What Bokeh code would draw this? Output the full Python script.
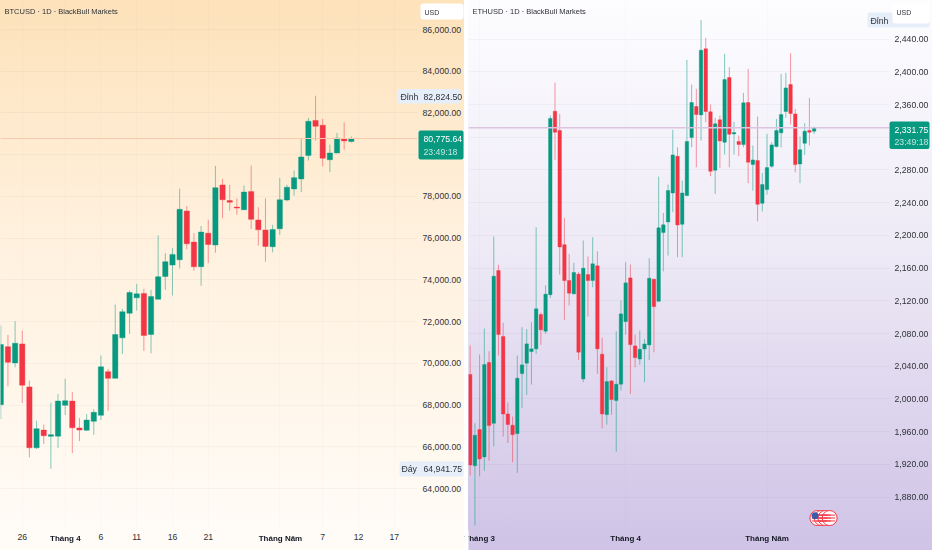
from bokeh.plotting import figure
from bokeh.layouts import row
from bokeh.models import ColumnDataSource, FixedTicker, Label, Span, BoxAnnotation, NumeralTickFormatter, Range1d
from bokeh.embed import file_html
from bokeh.resources import INLINE

FONT = "Liberation Sans"
UP = "#089981"
DOWN = "#f23645"
TEXT = "#2f3238"

# ---- BTCUSD daily, first candle 23 March
btc_open = [68020,70800,70020,70930,68870,65950,66800,66500,66510,67990,68190,66900,66790,67220,67510,69600,69280,71220,72400,73140,73350,71380,73070,74160,74710,74960,77300,75810,74630,76230,75670,78550,77800,77490,77360,78230,76870,76390,75590,76450,77830,78360,78840,79960,81640,81410,79760,80080,80770,80630]
btc_high = [71810,71360,72020,71570,69170,67250,67060,68110,68530,69270,68630,67380,67570,67810,70370,69730,72820,72610,73490,73810,73570,73520,76130,75280,75520,78370,77540,76240,76580,76880,79460,78840,78560,77910,78520,79480,77480,77910,76640,78880,78560,79240,80760,81760,82824.5,81720,80480,81040,81540,80870]
btc_low = [67330,68900,69810,68100,65490,65890,66130,64941.75,65950,67520,65700,66270,66770,66580,67280,67730,69280,70450,71410,72530,70590,70480,73070,73520,73250,74550,75460,74440,73720,74800,75300,76950,77320,77120,77350,76440,75640,74870,75320,76150,77760,78040,78200,79720,80680,79430,79160,80070,80240,80580]
btc_close = [70900,70050,70960,68950,65950,66870,66530,66580,68190,68210,66910,66800,67280,67650,69830,69280,71380,72470,73390,73330,71330,73200,74150,74870,75220,77380,75730,74630,76290,75700,78420,77840,77720,77440,78210,76900,76400,75600,76420,77840,78440,78900,79890,81600,81360,79830,80080,80790,80660,80775.64]
btc_price_ticks = [64000,66000,68000,70000,72000,74000,76000,78000,80000,82000,84000,86000]
btc_day_ticks = [3,14,19,24,29,45,50,55]
btc_day_labels = ["26","6","11","16","21","7","12","17"]
btc_month_ticks = [9,39]
btc_month_labels = ["Tháng 4","Tháng Năm"]

# ---- ETHUSD daily, first candle 27 February
eth_open = [2029.8,1918.4,1962.5,1929,2044.5,1970.2,2157,2076.3,1981.6,1967.8,1957.6,2031,2043.7,2057.9,2061.2,2103.2,2082.8,2127.5,2351.9,2328.3,2188.7,2144.8,2128.5,2152.6,2024.4,2152.1,2144.8,2162.8,2054.7,1980.8,2022,1998,2018,2094.5,2148,2064.8,2048.8,2061.1,2066,2146.4,2119.4,2203.5,2216.5,2251.9,2296.8,2213.6,2248.7,2319.6,2357.6,2347.4,2428.2,2351.1,2279.7,2341.3,2313.9,2393.1,2324.1,2314.8,2311.1,2362.5,2286.6,2291.5,2239.3,2256,2284.6,2308.6,2325.4,2351.5,2384.5,2348.6,2287.4,2312.7,2328.2,2327.4]
eth_high = [2065.3,1970.2,2054.3,2086,2058.3,2198.7,2164,2093,1995.5,1978.4,2053,2087.7,2085.3,2093.8,2210,2105.7,2138.7,2346.6,2387,2348.7,2221.4,2177.4,2166.4,2155,2193.8,2174.2,2197.8,2180.7,2074.7,2038.8,2023,2082.8,2120.4,2167.2,2164.3,2078.6,2083.5,2073.3,2172.1,2146.8,2272,2227.5,2262.2,2329,2307.8,2267,2414.7,2384.5,2379.2,2463.7,2441.6,2360.1,2343.7,2346.6,2422.1,2405.7,2338.8,2322.1,2374.3,2403.7,2309.9,2345.4,2276.4,2324.1,2313.9,2342.5,2397.6,2398.8,2422.9,2354.7,2320.9,2337.2,2368.2,2333.1]
eth_low = [1906.2,1845,1905.3,1912,1924.5,1942,2053,1953.9,1946.1,1922.5,1909.4,1988.6,2004.9,2017.5,2055,2066.1,2079.6,2123.5,2292.4,2152,2096.7,2114.2,2127.7,2047.7,2020.4,2100.7,2136.6,2030.6,1964.1,1968.6,1980.8,1935.5,2010.2,2078.6,2006.1,2038.6,2041.9,2020.4,2047.6,2057,2119,2156.1,2175.3,2228.3,2173.3,2173.3,2247.8,2307.8,2283.3,2316,2338.4,2272.3,2250.7,2282.5,2298.8,2283.3,2298.8,2296.8,2307.8,2263.8,2254.8,2217.2,2229.1,2249.9,2282.5,2307.8,2307.8,2343.7,2335.6,2277.2,2263.8,2298.4,2309.9,2324.1]
eth_close = [1919.2,1955.5,1926.6,2042,1967.4,2150.1,2078.7,1981.6,1968.6,1956.3,2025.3,2041.6,2067.3,2061.2,2110.2,2084.5,2128.1,2343,2326.2,2185.9,2144.7,2129.3,2154.6,2057.1,2159.9,2144.8,2165.2,2061.2,1981.6,2021.2,1999.2,2018,2104,2141.9,2066.4,2050.5,2060.7,2067.2,2147.6,2112.9,2209.2,2212.9,2254.9,2298.4,2212.8,2251.9,2314.8,2362.5,2347.8,2426.5,2351.5,2278.4,2336.4,2315.6,2390.6,2323.7,2325.8,2311.1,2362.1,2289.5,2292.3,2238,2262.1,2282.9,2310.7,2328.2,2347.8,2380.4,2349,2286.6,2304.6,2327.4,2326.2,2331.75]
eth_price_ticks = [1880,1920,1960,2000,2040,2080,2120,2160,2200,2240,2280,2320,2360,2400,2440]
eth_month_ticks = [2,33,63]
eth_month_labels = ["Tháng 3","Tháng 4","Tháng Năm"]


def panel(width, border_right, xr, yr, opens, highs, lows, closes, ticks, bg, price_fmt):
    p = figure(width=width, height=550, output_backend="svg", toolbar_location=None,
               x_range=Range1d(*xr), y_range=Range1d(*yr), y_axis_location="right",
               min_border_left=0, min_border_top=0, min_border_right=border_right, min_border_bottom=22,
               outline_line_color=None, background_fill_alpha=0, border_fill_alpha=0)
    p.styles = {"background": bg}
    idx = list(range(len(opens)))
    src = ColumnDataSource(dict(
        x=idx, high=highs, low=lows,
        top=[max(o, c) for o, c in zip(opens, closes)],
        bottom=[min(o, c) for o, c in zip(opens, closes)],
        color=[UP if c >= o else DOWN for o, c in zip(opens, closes)]))
    p.segment("x", "high", "x", "low", source=src, line_color="color", line_alpha=0.5, line_width=1)
    p.vbar("x", 0.74, "top", "bottom", source=src, fill_color="color", line_color="color", line_width=0.4)
    for ax in (p.yaxis[0], p.xaxis[0]):
        ax.axis_line_color = None
        ax.major_tick_line_color = None
        ax.minor_tick_line_color = None
        ax.major_tick_out = 0
        ax.major_tick_in = 0
        ax.minor_tick_out = 0
        ax.minor_tick_in = 0
        ax.major_label_standoff = 5
        ax.major_label_text_font = FONT
        ax.major_label_text_font_size = "8.7px"
        ax.major_label_text_color = TEXT
    ya = p.yaxis[0]
    ya.ticker = FixedTicker(ticks=ticks)
    ya.formatter = NumeralTickFormatter(format=price_fmt)
    p.ygrid.ticker = FixedTicker(ticks=ticks)
    p.ygrid.grid_line_color = "#3b3560"
    p.ygrid.grid_line_alpha = 0.04
    p.xgrid.grid_line_color = "#3b3560"
    p.xgrid.grid_line_alpha = 0.02
    return p


# ---- left panel
BTC_XR = (-0.04, 58.25)
p1 = panel(464, 46, BTC_XR, (62083, 87390),
           btc_open, btc_high, btc_low, btc_close, btc_price_ticks,
           "linear-gradient(180deg,#fde2ba 0%,#fff0dc 40%,#fffcf8 100%)", "0,0.00")
p1.xaxis[0].ticker = FixedTicker(ticks=btc_day_ticks + btc_month_ticks)
p1.xaxis[0].major_label_overrides = {**dict(zip(btc_day_ticks, btc_day_labels)), **{t: "" for t in btc_month_ticks}}
p1.xgrid.ticker = FixedTicker(ticks=btc_day_ticks + btc_month_ticks)
p1.add_layout(Span(location=btc_close[-1], dimension="width", line_color="#f9c9ad", line_width=1.2))

# ---- right panel
ETH_XR = (-0.36, 89.0)
p2 = panel(464, 43, ETH_XR, (1841.5, 2487.3),
           eth_open, eth_high, eth_low, eth_close, eth_price_ticks,
           "linear-gradient(180deg,#fdfdff 0%,#eeeaf6 45%,#cfc3e6 100%)", "0,0.00")
p2.xaxis[0].ticker = FixedTicker(ticks=eth_month_ticks)
p2.xaxis[0].major_label_overrides = {t: "" for t in eth_month_ticks}
p2.xgrid.ticker = FixedTicker(ticks=eth_month_ticks)
p2.add_layout(Span(location=eth_close[-1], dimension="width", line_color="#dcc4e0", line_width=1.6))

# economic calendar flag badge
flag_x = [73.7, 74.6, 75.4, 76.3]
flag_y = [1854.3] * 4
p2.scatter(flag_x, flag_y, size=15, fill_color="#ffffff", line_color="#f23645", line_width=1)
for off in (-3.6, 0, 3.6):
    p2.scatter(flag_x, [v + off for v in flag_y], marker="dash", size=11, line_color="#f23645", line_width=1)
p2.scatter([73.2], [1857.0], size=7, fill_color="#3c5aa6", line_color=None)

# ---- overlay for the price tags, headers and bold month labels
ov = figure(width=932, height=550, output_backend="svg", toolbar_location=None,
            x_range=Range1d(0, 932), y_range=Range1d(550, 0),
            min_border_left=0, min_border_top=0, min_border_right=0, min_border_bottom=0,
            outline_line_color=None, background_fill_alpha=0, border_fill_alpha=0)
ov.xaxis.visible = False
ov.yaxis.visible = False
ov.grid.visible = False
ov.styles = {"position": "fixed", "left": "0px", "top": "0px"}


def text(x, y, s, size="8.7px", color=TEXT, style="normal", align="left"):
    ov.add_layout(Label(x=x, y=y, text=s, text_font=FONT, text_font_size=size, text_color=color,
                        text_font_style=style, text_align=align, text_baseline="middle"))


def box(left, right, top, bottom, color, radius=2):
    ov.add_layout(BoxAnnotation(left=left, right=right, top=top, bottom=bottom, fill_color=color,
                                fill_alpha=1, line_color=None, border_radius=radius))


def px(t, xr, left, frame_w):
    return left + (t - xr[0]) / (xr[1] - xr[0]) * frame_w


for t, s in zip(btc_month_ticks, btc_month_labels):
    text(px(t, BTC_XR, 0, 418), 538, s, size="8px", style="bold", color="#131722", align="center")
for t, s in zip(eth_month_ticks, eth_month_labels):
    text(px(t, ETH_XR, 468, 421), 538, s, size="8px", style="bold", color="#131722", align="center")
box(464, 468, 530, 550, "#ffffff", 0)

text(4, 11, "BTCUSD · 1D · BlackBull Markets", size="7.5px")
text(472, 11, "ETHUSD · 1D · BlackBull Markets", size="7.5px")

box(420, 463, 3, 19, "#ffffff", 3)
text(424, 11.5, "USD", size="7px")
box(397, 460, 88.5, 103, "#e6eefa")
text(400, 96, "Đỉnh")
text(423, 96, "82,824.50")
box(399, 463, 461, 476, "#e6eefa")
text(401, 468.5, "Đáy")
text(423, 468.5, "64,941.75")
box(418, 463, 130, 159, UP)
text(423, 138, "80,775.64", color="#ffffff")
text(423, 151, "23:49:18", color="#c5e6df")

box(867, 929, 12, 27, "#e6eefa")
text(870, 20, "Đỉnh")
box(892, 929, 3, 23, "#ffffff", 3)
text(896, 11.5, "USD", size="7px")
box(889, 929, 121, 148.5, UP)
text(894, 129, "2,331.75", color="#ffffff")
text(894, 141, "23:49:18", color="#c5e6df")

layout = row(p1, p2, spacing=4)
layout.styles = {"position": "fixed", "left": "0px", "top": "0px"}

with open("out.html", "w") as f:
    f.write(file_html([layout, ov], INLINE))
